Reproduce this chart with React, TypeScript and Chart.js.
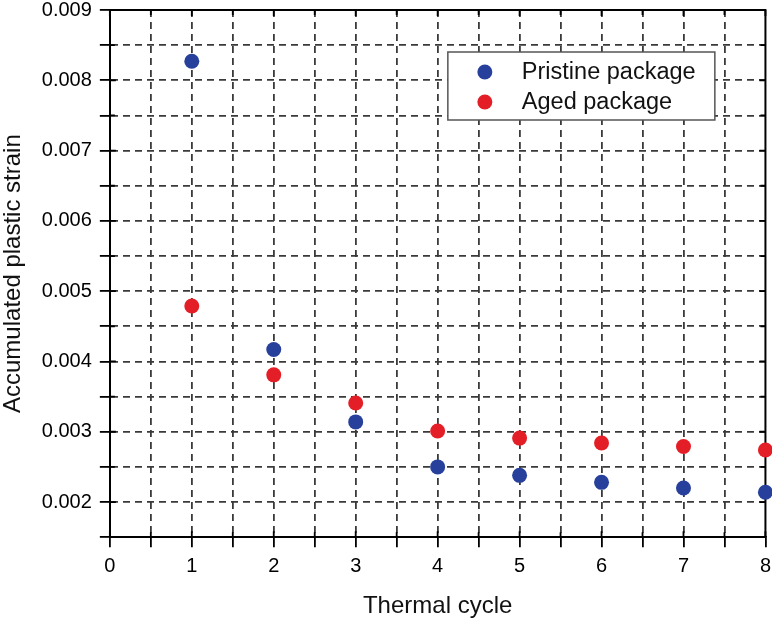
import React, { useEffect, useRef } from "react";
import { Chart, registerables } from "chart.js";

Chart.register(...registerables);

const cycles = [1, 2, 3, 4, 5, 6, 7, 8];
const pristineStrain = [0.00827, 0.00417, 0.00314, 0.0025, 0.00238, 0.00228, 0.0022, 0.00214];
const agedStrain = [0.00479, 0.00381, 0.00341, 0.00301, 0.00291, 0.00284, 0.00279, 0.00274];
const seriesNames = ["Pristine package", "Aged package"];
const seriesColors = ["#27409b", "#e41e26"];
const xTitle = "Thermal cycle";
const yTitle = "Accumulated plastic strain";
const xMin = 0;
const xMax = 8;
const yMin = 0.0015;
const yMax = 0.009;

const FONT = "'Liberation Sans', Arial, Helvetica, sans-serif";

const framePlugin = {
  id: "frame",
  beforeDatasetsDraw(chart: any) {
    const { ctx, chartArea } = chart;
    const xs = chart.scales.x;
    const ys = chart.scales.y;
    ctx.save();
    ctx.strokeStyle = "#000";
    ctx.lineWidth = 2;
    ctx.beginPath();
    ctx.moveTo(chartArea.left, chartArea.top);
    ctx.lineTo(chartArea.right, chartArea.top);
    ctx.lineTo(chartArea.right, chartArea.bottom);
    ctx.stroke();
    ctx.lineWidth = 1.8;
    ctx.beginPath();
    xs.ticks.forEach((t: any) => {
      const px = xs.getPixelForValue(t.value);
      const len = Number.isInteger(t.value) ? 6 : 5;
      ctx.moveTo(px, chartArea.bottom);
      ctx.lineTo(px, chartArea.bottom - len);
      ctx.moveTo(px, chartArea.top);
      ctx.lineTo(px, chartArea.top + len);
    });
    ys.ticks.forEach((t: any) => {
      const py = ys.getPixelForValue(t.value);
      const major = Math.round(t.value * 10000) % 10 === 0;
      const len = major ? 6 : 5;
      ctx.moveTo(chartArea.left, py);
      ctx.lineTo(chartArea.left + len, py);
      ctx.moveTo(chartArea.right, py);
      ctx.lineTo(chartArea.right - len, py);
    });
    ctx.stroke();
    ctx.restore();
  },
};

const legendPlugin = {
  id: "boxLegend",
  afterDraw(chart: any) {
    const { ctx, chartArea } = chart;
    const bx = chartArea.left + 338;
    const by = chartArea.top + 42;
    const bw = 267;
    const bh = 68;
    ctx.save();
    ctx.fillStyle = "#fff";
    ctx.fillRect(bx, by, bw, bh);
    ctx.strokeStyle = "#555";
    ctx.lineWidth = 1.5;
    ctx.strokeRect(bx, by, bw, bh);
    ctx.font = `23.5px ${FONT}`;
    ctx.textBaseline = "middle";
    ctx.textAlign = "left";
    seriesNames.forEach((name, i) => {
      const cy = by + 20 + i * 30;
      ctx.fillStyle = seriesColors[i];
      ctx.beginPath();
      ctx.arc(bx + 37, cy, 7.5, 0, Math.PI * 2);
      ctx.fill();
      ctx.fillStyle = "#111";
      ctx.fillText(name, bx + 74, cy + 1);
    });
    ctx.restore();
  },
};

export default function App() {
  const ref = useRef<HTMLCanvasElement>(null);
  useEffect(() => {
    if (!ref.current) return;
    const gridColor = (c: any) => {
      const v = c.tick ? c.tick.value : null;
      if (c.scale.axis === "x" && (v === xMin || v === xMax)) return "rgba(0,0,0,0)";
      if (c.scale.axis === "y" && (Math.abs(v - yMin) < 1e-9 || Math.abs(v - yMax) < 1e-9)) return "rgba(0,0,0,0)";
      return "#3a3a3a";
    };
    const gridOpts = {
      color: gridColor as any,
      lineWidth: 1.8,
      drawTicks: true,
      tickLength: 10,
      tickColor: "#000",
      tickWidth: 1.8,
      tickBorderDash: [],
    } as any;
    const borderOpts = { display: true, color: "#000", width: 2, dash: [7, 5] } as any;
    const chart = new Chart(ref.current, {
      type: "scatter",
      data: {
        datasets: [
          {
            label: seriesNames[0],
            data: cycles.map((c, i) => ({ x: c, y: pristineStrain[i] })),
            backgroundColor: seriesColors[0],
            borderColor: seriesColors[0],
            pointRadius: 7.5,
            borderWidth: 0,
            clip: false as any,
          },
          {
            label: seriesNames[1],
            data: cycles.map((c, i) => ({ x: c, y: agedStrain[i] })),
            backgroundColor: seriesColors[1],
            borderColor: seriesColors[1],
            pointRadius: 7.5,
            borderWidth: 0,
            clip: false as any,
          },
        ],
      },
      options: {
        responsive: false,
        animation: false,
        devicePixelRatio: 1,
        layout: { padding: { left: 1, right: 0, top: 0, bottom: 6 } },
        plugins: {
          legend: { display: false },
          tooltip: { enabled: false },
        },
        scales: {
          x: {
            type: "linear",
            min: xMin,
            max: xMax,
            border: borderOpts,
            grid: gridOpts,
            ticks: {
              stepSize: 0.5,
              autoSkip: false,
              maxRotation: 0,
              padding: 7,
              color: "#000",
              font: { family: FONT, size: 20 },
              callback: (v: any) => (Number.isInteger(v) ? String(v) : ""),
            },
            title: {
              display: true,
              text: xTitle,
              color: "#111",
              font: { family: FONT, size: 24 },
              padding: { top: 7, bottom: 0 },
            },
          },
          y: {
            type: "linear",
            min: yMin,
            max: yMax,
            border: borderOpts,
            grid: gridOpts,
            ticks: {
              stepSize: 0.0005,
              autoSkip: false,
              padding: 8,
              color: "#000",
              font: { family: FONT, size: 20 },
              callback: (v: any) => {
                const k = Math.round(Number(v) * 10000);
                return k % 10 === 0 ? (k / 10000).toFixed(3) : "";
              },
            },
            title: {
              display: true,
              text: yTitle,
              color: "#111",
              font: { family: FONT, size: 24 },
              padding: { top: 0, bottom: 6 },
            },
          },
        },
      },
      plugins: [framePlugin, legendPlugin],
    });
    return () => chart.destroy();
  }, []);

  return (
    <div style={{ position: "fixed", left: 0, top: 0, width: 772, height: 622, overflow: "hidden", background: "#fff" }}>
      <div style={{ position: "absolute", left: -2, top: -10 }}>
        <canvas ref={ref} width={780} height={637} style={{ display: "block" }} />
      </div>
    </div>
  );
}
